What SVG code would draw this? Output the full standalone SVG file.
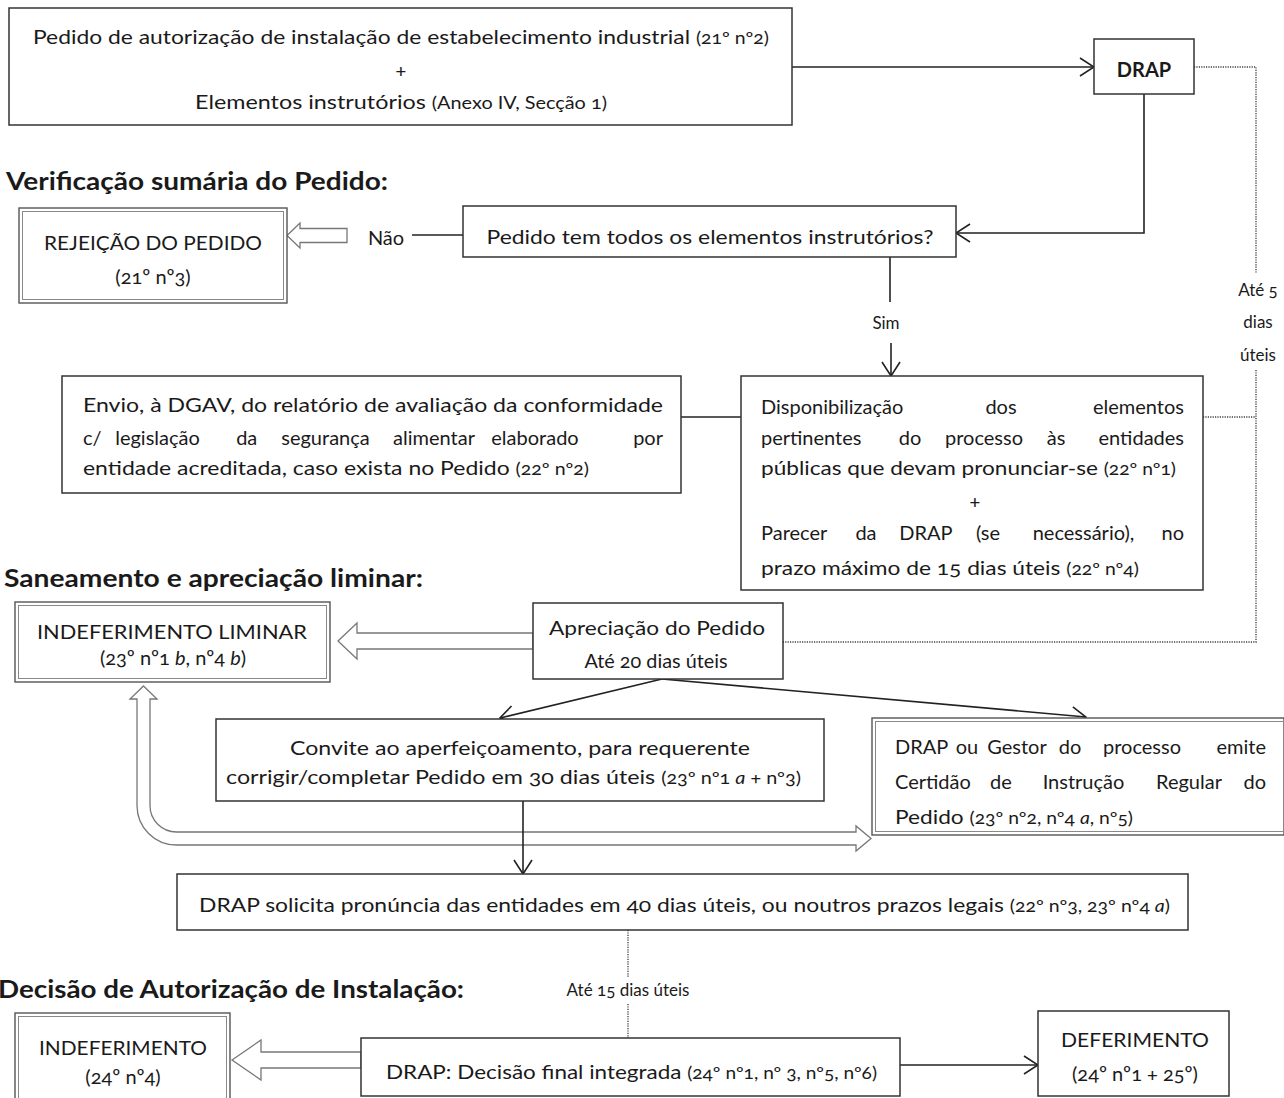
<svg xmlns="http://www.w3.org/2000/svg" width="1284" height="1098" viewBox="0 0 1284 1098">
<style>
.t{font-family:Lato,"Open Sans","Liberation Sans",sans-serif;font-size:20px;fill:#1a1a1a;font-variant-numeric:oldstyle-nums}
.m{text-anchor:middle}
.e{text-anchor:end}
.s{font-size:17px}
.h{font-weight:700;font-size:25px}
.b{font-weight:700}
.box{fill:#fff;stroke:#333;stroke-width:1.5}
.dout{fill:#fff;stroke:#555;stroke-width:1.4}
.din{fill:none;stroke:#888;stroke-width:1}
.ln{fill:none;stroke:#222;stroke-width:1.6}
.dot{fill:none;stroke:#6f6f6f;stroke-width:1.8;stroke-dasharray:1.2 1.2}
.hol{fill:#fff;stroke:#777;stroke-width:1.3}
</style>
<defs>
<marker id="op" viewBox="0 0 16 20" refX="15" refY="10" markerWidth="16" markerHeight="20" markerUnits="userSpaceOnUse" orient="auto">
<path d="M1,1 L15,10 L1,19" fill="none" stroke="#222" stroke-width="1.6"/>
</marker>
</defs>
<rect width="1284" height="1098" fill="#fff"/>

<g id="headings">
<text class="t h" x="6" y="190" textLength="382" lengthAdjust="spacingAndGlyphs">Verificação sumária do Pedido:</text>
<text class="t h" x="4" y="587" textLength="419" lengthAdjust="spacingAndGlyphs">Saneamento e apreciação liminar:</text>
<text class="t h" x="-2" y="998" textLength="466" lengthAdjust="spacingAndGlyphs">Decisão de Autorização de Instalação:</text>
</g>

<g id="connectors">
<line class="ln" x1="792" y1="67" x2="1094" y2="67" marker-end="url(#op)"/>
<path class="dot" d="M1194,67 H1256 V273"/>
<path class="dot" d="M1256,370 V642 H783"/>
<path class="dot" d="M1203,417 H1256"/>
<path class="ln" d="M1144,94 V233 H956" marker-end="url(#op)"/>
<line class="ln" x1="412" y1="235" x2="463" y2="235"/>
<polygon class="hol" points="287,235.5 300,223 300,228.5 347,228.5 347,242.5 300,242.5 300,248"/>
<line class="ln" x1="890" y1="257" x2="890" y2="302"/>
<line class="ln" x1="891" y1="343" x2="891" y2="376" marker-end="url(#op)"/>
<line class="ln" x1="681" y1="417" x2="741" y2="417"/>
<polygon class="hol" points="338,641 357,623 357,633 533,633 533,649 357,649 357,659"/>
<line class="ln" x1="662" y1="679" x2="500" y2="718" marker-end="url(#op)"/>
<line class="ln" x1="662" y1="679" x2="1086" y2="717" marker-end="url(#op)"/>
<path class="hol" d="M143.5,686 L157,699 L150,699 L150,805.5 A26.5,26.5 0 0 0 176.5,832 L856,832 L856,826 L871,838.5 L856,851 L856,845 L176.5,845 A39.5,39.5 0 0 1 137,805.5 L137,699 L130,699 Z"/>
<line class="ln" x1="523" y1="801" x2="523" y2="874" marker-end="url(#op)"/>
<path class="dot" d="M628,930 V978 M628,1004 V1038"/>
<polygon class="hol" points="232,1060 261,1040 261,1052 361,1052 361,1068 261,1068 261,1080"/>
<line class="ln" x1="900" y1="1065" x2="1038" y2="1065" marker-end="url(#op)"/>
</g>

<g id="labels">
<text class="t" x="386" y="245" text-anchor="middle" font-size="19">Não</text>
<text class="t m s" x="886" y="329">Sim</text>
<text class="t m s" x="1258" y="296">Até 5</text>
<text class="t m s" x="1258" y="328">dias</text>
<text class="t m s" x="1258" y="361">úteis</text>
<text class="t m s" x="628" y="996">Até 15 dias úteis</text>
</g>

<g id="n-pedido-inicial">
<rect class="box" x="9" y="8" width="783" height="117"/>
<text class="t m" x="401" y="44" textLength="736" lengthAdjust="spacingAndGlyphs">Pedido de autorização de instalação de estabelecimento industrial <tspan class="s">(21º nº2)</tspan></text>
<text class="t m" x="401" y="77" font-size="14">+</text>
<text class="t m" x="401" y="109" textLength="412" lengthAdjust="spacingAndGlyphs">Elementos instrutórios <tspan class="s">(Anexo IV, Secção 1)</tspan></text>
</g>

<g id="n-drap">
<rect class="box" x="1094" y="39" width="100" height="55"/>
<text class="t m b" x="1144" y="77" font-size="20">DRAP</text>
</g>

<g id="n-verificacao">
<rect class="box" x="463" y="206" width="493" height="51"/>
<text class="t m" x="710" y="244" textLength="447" lengthAdjust="spacingAndGlyphs">Pedido tem todos os elementos instrutórios?</text>
</g>

<g id="n-rejeicao">
<rect class="dout" x="19" y="208" width="268" height="95"/>
<rect class="din" x="22.5" y="211.5" width="261" height="88"/>
<text class="t m" x="153" y="250" textLength="218" lengthAdjust="spacingAndGlyphs">REJEIÇÃO DO PEDIDO</text>
<text class="t m" x="153" y="284" font-size="18">(21º nº3)</text>
</g>

<g id="n-envio">
<rect class="box" x="62" y="376" width="619" height="117"/>
<text class="t" x="83" y="412" textLength="580" lengthAdjust="spacingAndGlyphs">Envio, à DGAV, do relatório de avaliação da conformidade</text>
<text class="t" y="445"><tspan x="83">c/</tspan><tspan x="157.5" text-anchor="middle">legislação</tspan><tspan x="246.7" text-anchor="middle">da</tspan><tspan x="325.5" text-anchor="middle">segurança</tspan><tspan x="434" text-anchor="middle">alimentar</tspan><tspan x="535" text-anchor="middle">elaborado</tspan><tspan x="663" text-anchor="end">por</tspan></text>
<text class="t" x="83" y="475" textLength="506" lengthAdjust="spacingAndGlyphs">entidade acreditada, caso exista no Pedido <tspan class="s">(22º nº2)</tspan></text>
</g>

<g id="n-disponibilizacao">
<rect class="box" x="741" y="376" width="462" height="214"/>
<text class="t" y="414"><tspan x="761">Disponibilização</tspan><tspan x="1001" text-anchor="middle">dos</tspan><tspan x="1184" text-anchor="end">elementos</tspan></text>
<text class="t" y="445"><tspan x="761">pertinentes</tspan><tspan x="910" text-anchor="middle">do</tspan><tspan x="984" text-anchor="middle">processo</tspan><tspan x="1056" text-anchor="middle">às</tspan><tspan x="1184" text-anchor="end">entidades</tspan></text>
<text class="t" x="761" y="475" textLength="415" lengthAdjust="spacingAndGlyphs">públicas que devam pronunciar-se <tspan class="s">(22º nº1)</tspan></text>
<text class="t m" x="975" y="508" font-size="14">+</text>
<text class="t" y="540"><tspan x="761">Parecer</tspan><tspan x="866" text-anchor="middle">da</tspan><tspan x="926" text-anchor="middle">DRAP</tspan><tspan x="988" text-anchor="middle">(se</tspan><tspan x="1083.5" text-anchor="middle">necessário),</tspan><tspan x="1184" text-anchor="end">no</tspan></text>
<text class="t" x="761" y="575" textLength="378" lengthAdjust="spacingAndGlyphs">prazo máximo de 15 dias úteis <tspan class="s">(22º nº4)</tspan></text>
</g>

<g id="n-indef-liminar">
<rect class="dout" x="15" y="602" width="315" height="80"/>
<rect class="din" x="18.5" y="605.5" width="308" height="73"/>
<text class="t m" x="172" y="639" textLength="270" lengthAdjust="spacingAndGlyphs">INDEFERIMENTO LIMINAR</text>
<text class="t m" x="173" y="665" font-size="18">(23º nº1 <tspan font-style="italic">b</tspan>, nº4 <tspan font-style="italic">b</tspan>)</text>
</g>

<g id="n-apreciacao">
<rect class="box" x="533" y="603" width="250" height="76"/>
<text class="t m" x="657" y="635" textLength="216" lengthAdjust="spacingAndGlyphs">Apreciação do Pedido</text>
<text class="t m" x="656" y="668" font-size="18" textLength="143" lengthAdjust="spacingAndGlyphs">Até 20 dias úteis</text>
</g>

<g id="n-convite">
<rect class="box" x="216" y="719" width="608" height="82"/>
<text class="t m" x="520" y="755" textLength="460" lengthAdjust="spacingAndGlyphs">Convite ao aperfeiçoamento, para requerente</text>
<text class="t m" x="513.5" y="784" textLength="575" lengthAdjust="spacingAndGlyphs">corrigir/completar Pedido em 30 dias úteis <tspan class="s">(23º nº1 <tspan font-style="italic">a</tspan> + nº3)</tspan></text>
</g>

<g id="n-certidao">
<rect class="dout" x="872" y="718" width="412" height="117"/>
<rect class="din" x="875.5" y="721.5" width="410" height="110"/>
<text class="t" y="754"><tspan x="895">DRAP</tspan><tspan x="967" text-anchor="middle">ou</tspan><tspan x="1017" text-anchor="middle">Gestor</tspan><tspan x="1070" text-anchor="middle">do</tspan><tspan x="1142" text-anchor="middle">processo</tspan><tspan x="1266" text-anchor="end">emite</tspan></text>
<text class="t" y="789"><tspan x="895">Certidão</tspan><tspan x="1001" text-anchor="middle">de</tspan><tspan x="1083.5" text-anchor="middle">Instrução</tspan><tspan x="1189" text-anchor="middle">Regular</tspan><tspan x="1266" text-anchor="end">do</tspan></text>
<text class="t" x="895" y="824" textLength="238" lengthAdjust="spacingAndGlyphs">Pedido <tspan class="s">(23º nº2, nº4 <tspan font-style="italic">a</tspan>, nº5)</tspan></text>
</g>

<g id="n-solicita">
<rect class="box" x="177" y="874" width="1011" height="56"/>
<text class="t" x="199" y="912" textLength="971" lengthAdjust="spacingAndGlyphs">DRAP solicita pronúncia das entidades em 40 dias úteis, ou noutros prazos legais <tspan class="s">(22º nº3, 23º nº4 <tspan font-style="italic">a</tspan>)</tspan></text>
</g>

<g id="n-indeferimento">
<rect class="dout" x="15" y="1013" width="215" height="90"/>
<rect class="din" x="18.5" y="1016.5" width="208" height="90"/>
<text class="t m" x="123" y="1055" textLength="168" lengthAdjust="spacingAndGlyphs">INDEFERIMENTO</text>
<text class="t m" x="123" y="1084" font-size="18">(24º nº4)</text>
</g>

<g id="n-decisao">
<rect class="box" x="361" y="1038" width="539" height="58"/>
<text class="t" x="386" y="1079" textLength="491" lengthAdjust="spacingAndGlyphs">DRAP: Decisão final integrada <tspan class="s">(24º nº1, nº 3, nº5, nº6)</tspan></text>
</g>

<g id="n-deferimento">
<rect class="box" x="1038" y="1011" width="191" height="85"/>
<text class="t m" x="1135" y="1047" textLength="148" lengthAdjust="spacingAndGlyphs">DEFERIMENTO</text>
<text class="t m" x="1135" y="1081" font-size="18">(24º nº1 + 25º)</text>
</g>
</svg>
